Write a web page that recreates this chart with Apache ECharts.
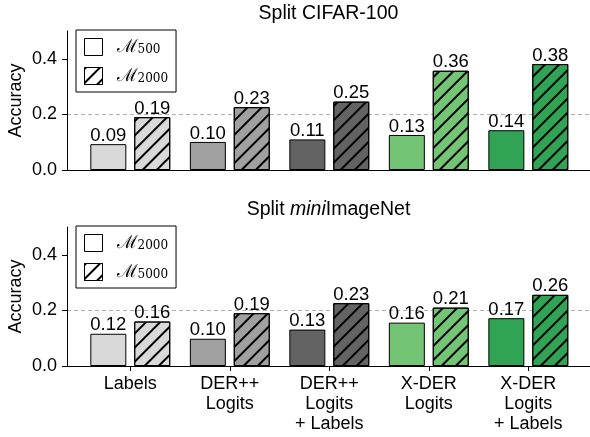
<!DOCTYPE html>
<html>
<head>
<meta charset="utf-8">
<script src="https://cdn.jsdelivr.net/npm/echarts@6/dist/echarts.min.js"></script>
<style>
  html, body { margin: 0; padding: 0; background: #fff; }
  #chart { width: 590px; height: 437px; }
</style>
</head>
<body>
<div id="chart"></div>
<script>
// categories (x positions 0..4)
var categories = ['Labels', 'DER++\nLogits', 'DER++\nLogits\n+ Labels', 'X-DER\nLogits', 'X-DER\nLogits\n+ Labels'];
var barColors = ['#d9d9d9', '#a0a0a0', '#636363', '#74c476', '#31a354'];
var yTicks = [0, 0.2, 0.4];

// Split CIFAR-100
var cifarM500 = [0.093, 0.101, 0.110, 0.126, 0.143];
var cifarM2000 = [0.190, 0.226, 0.246, 0.357, 0.381];
// Split miniImageNet
var miniM2000 = [0.116, 0.098, 0.131, 0.156, 0.172];
var miniM5000 = [0.160, 0.190, 0.226, 0.210, 0.256];

var legendText = {
  c500: '{m|\u2133}{s|500}',
  c2000: '{m|\u2133}{s|2000}',
  m2000: '{m|\u2133}{s|2000}',
  m5000: '{m|\u2133}{s|5000}'
};

var FONT = 'Liberation Sans';

var hatch = {
  symbol: 'rect',
  symbolSize: 1,
  color: '#000',
  dashArrayX: [1, 0],
  dashArrayY: [1.2, 8],
  rotation: -Math.PI / 4
};

function makeSeries(name, values, gridIdx, hatched) {
  return {
    name: name,
    type: 'bar',
    xAxisIndex: gridIdx,
    yAxisIndex: gridIdx,
    barWidth: 36,
    barGap: '22%',
    data: values.map(function (v, i) {
      return { value: [i, v], itemStyle: { color: barColors[i] } };
    }),
    itemStyle: {
      color: '#fff',
      borderColor: '#000',
      borderWidth: 1,
      decal: hatched ? hatch : null
    },
    label: {
      show: true,
      position: 'top',
      distance: -1,
      color: '#000',
      fontFamily: FONT,
      fontSize: 18.5,
      formatter: function (p) { return p.value[1].toFixed(2); }
    },
    emphasis: { disabled: true }
  };
}

function makeX(gridIdx, showLabels) {
  return {
    type: 'value',
    gridIndex: gridIdx,
    min: -0.636,
    max: 4.62,
    splitLine: { show: false },
    axisLine: { show: true, onZero: false, lineStyle: { color: '#000', width: 1 } },
    axisTick: {
      show: showLabels,
      length: 5,
      lineStyle: { color: '#000' },
      customValues: [0, 1, 2, 3, 4]
    },
    axisLabel: {
      show: showLabels,
      customValues: [0, 1, 2, 3, 4],
      margin: 8,
      color: '#000',
      fontFamily: FONT,
      fontSize: 18,
      lineHeight: 20,
      align: 'center',
      formatter: function (v) { return categories[Math.round(v)]; }
    }
  };
}

function makeY(gridIdx) {
  return {
    type: 'value',
    gridIndex: gridIdx,
    min: 0,
    max: 0.5,
    interval: 0.2,
    name: 'Accuracy',
    nameLocation: 'middle',
    nameGap: 42,
    nameMoveOverlap: false,
    nameTextStyle: { color: '#000', fontFamily: FONT, fontSize: 18 },
    axisLine: { show: true, onZero: false, lineStyle: { color: '#000', width: 1 } },
    axisTick: { show: true, length: 5, lineStyle: { color: '#000' }, customValues: yTicks },
    axisLabel: {
      customValues: yTicks,
      margin: 10,
      color: '#000',
      fontFamily: FONT,
      fontSize: 18,
      formatter: function (v) { return v.toFixed(1); }
    },
    splitLine: {
      show: true,
      showMinLine: false,
      showMaxLine: false,
      lineStyle: { color: '#b0b0b0', type: [4, 3], width: 1 }
    }
  };
}

function makeLegend(names, top) {
  return {
    data: names,
    orient: 'vertical',
    left: 76,
    top: top,
    padding: [8, 8, 7, 8],
    itemGap: 11,
    itemWidth: 18,
    itemHeight: 17,
    icon: 'rect',
    borderColor: '#000',
    borderWidth: 1,
    borderRadius: 0,
    backgroundColor: '#fff',
    selectedMode: false,
    itemStyle: { color: '#fff', borderColor: '#000', borderWidth: 1 },
    formatter: function (name) { return legendText[name]; },
    textStyle: {
      rich: {
        m: { fontFamily: 'DejaVu Serif', fontSize: 18, lineHeight: 17, color: '#000', padding: [0, 0, 0, 9] },
        s: { fontFamily: 'DejaVu Serif', fontSize: 12, lineHeight: 17, color: '#000', padding: [6, 0, 0, 0] }
      }
    }
  };
}

var chart = echarts.init(document.getElementById('chart'), null, { renderer: 'canvas' });
chart.setOption({
  animation: false,
  backgroundColor: '#fff',
  title: [
    {
      text: 'Split CIFAR-100',
      left: 328.5,
      textAlign: 'center',
      top: 4,
      padding: 0,
      textStyle: { color: '#000', fontFamily: FONT, fontSize: 19.5, fontWeight: 'normal' }
    },
    {
      text: 'Split {i|mini}ImageNet',
      left: 328.5,
      textAlign: 'center',
      top: 200,
      padding: 0,
      textStyle: {
        color: '#000', fontFamily: FONT, fontSize: 19.5, fontWeight: 'normal',
        rich: { i: { fontFamily: FONT, fontSize: 19.5, fontStyle: 'italic', color: '#000' } }
      }
    }
  ],
  grid: [
    { left: 67, right: 0, top: 31, height: 139, outerBoundsMode: 'none', containLabel: false },
    { left: 67, right: 0, top: 227, height: 139, outerBoundsMode: 'none', containLabel: false }
  ],
  legend: [
    makeLegend(['c500', 'c2000'], 30),
    makeLegend(['m2000', 'm5000'], 226)
  ],
  xAxis: [makeX(0, false), makeX(1, true)],
  yAxis: [makeY(0), makeY(1)],
  series: [
    makeSeries('c500', cifarM500, 0, false),
    makeSeries('c2000', cifarM2000, 0, true),
    makeSeries('m2000', miniM2000, 1, false),
    makeSeries('m5000', miniM5000, 1, true)
  ]
});
</script>
</body>
</html>
